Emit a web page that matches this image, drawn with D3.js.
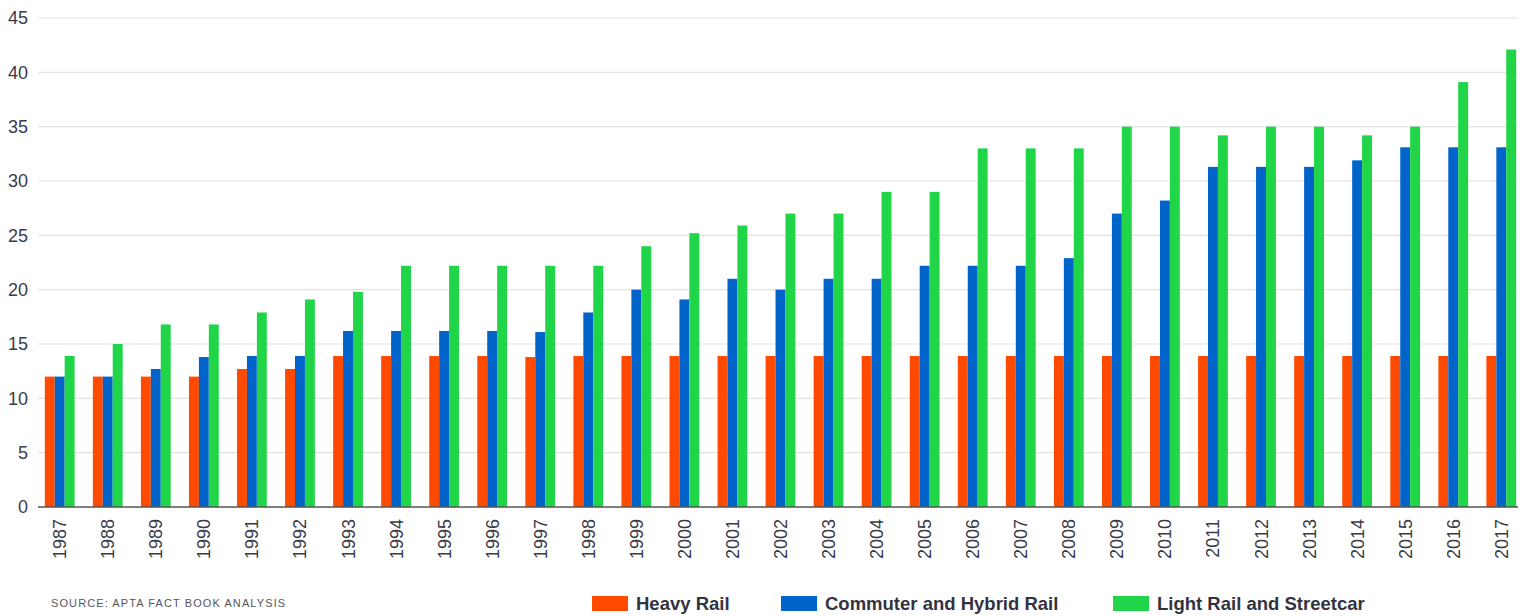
<!DOCTYPE html>
<html>
<head>
<meta charset="utf-8">
<script src="https://cdn.jsdelivr.net/npm/d3@7"></script>
<style>
  body { margin: 0; background: #fff; }
  text { font-family: "Liberation Sans", Arial, sans-serif; }
</style>
</head>
<body>
<svg class="chart"></svg>
<script>
var years = ['1987','1988','1989','1990','1991','1992','1993','1994','1995','1996','1997','1998','1999','2000','2001','2002','2003','2004','2005','2006','2007','2008','2009','2010','2011','2012','2013','2014','2015','2016','2017'];

var heavyRail = [12, 12, 12, 12, 12.7, 12.7, 13.9, 13.9, 13.9, 13.9, 13.8, 13.9, 13.9, 13.9, 13.9, 13.9, 13.9, 13.9, 13.9, 13.9, 13.9, 13.9, 13.9, 13.9, 13.9, 13.9, 13.9, 13.9, 13.9, 13.9, 13.9];
var commuterRail = [12, 12, 12.7, 13.8, 13.9, 13.9, 16.2, 16.2, 16.2, 16.2, 16.1, 17.9, 20, 19.1, 21, 20, 21, 21, 22.2, 22.2, 22.2, 22.9, 27, 28.2, 31.3, 31.3, 31.3, 31.9, 33.1, 33.1, 33.1];
var lightRail = [13.9, 15, 16.8, 16.8, 17.9, 19.1, 19.8, 22.2, 22.2, 22.2, 22.2, 22.2, 24, 25.2, 25.9, 27, 27, 29, 29, 33, 33, 33, 35, 35, 34.2, 35, 35, 34.2, 35, 39.1, 42.1];

var seriesNames = ['Heavy Rail', 'Commuter and Hybrid Rail', 'Light Rail and Streetcar'];
var colors = ['#ff4a00', '#0064cb', '#21d548'];
var yTicks = [0, 5, 10, 15, 20, 25, 30, 35, 40, 45];

var W = 1525, H = 616;
var plot = { left: 38, right: 1518, top: 18, bottom: 507 };

var svg = d3.select('.chart').attr('width', W).attr('height', H);

var x = d3.scaleBand().domain(years).range([40, 1521]).paddingInner(0.38).paddingOuter(0.1);
var sub = d3.scaleBand().domain([0, 1, 2]).range([0, x.bandwidth()]);
var y = d3.scaleLinear().domain([0, 45]).range([plot.bottom, plot.top]);

// gridlines
svg.append('g')
  .selectAll('line')
  .data(yTicks.filter(d => d > 0))
  .enter().append('line')
  .attr('x1', plot.left).attr('x2', plot.right)
  .attr('y1', d => y(d)).attr('y2', d => y(d))
  .attr('stroke', '#e2e2e2')
  .attr('stroke-width', 1.2);

// y labels
svg.append('g')
  .selectAll('text')
  .data(yTicks)
  .enter().append('text')
  .attr('x', 28)
  .attr('y', d => y(d))
  .attr('dy', '0.36em')
  .attr('text-anchor', 'end')
  .attr('font-size', 18)
  .attr('fill', '#3b3b48')
  .text(d => d);

// bars
var table = years.map((yr, i) => ({ year: yr, values: [heavyRail[i], commuterRail[i], lightRail[i]] }));

var groups = svg.append('g')
  .selectAll('g')
  .data(table)
  .enter().append('g')
  .attr('transform', d => 'translate(' + x(d.year) + ',0)');

groups.selectAll('rect')
  .data(d => d.values.map((v, k) => ({ k: k, v: v })))
  .enter().append('rect')
  .attr('x', d => sub(d.k))
  .attr('width', sub.bandwidth())
  .attr('y', d => y(d.v))
  .attr('height', d => y(0) - y(d.v))
  .attr('fill', d => colors[d.k]);

// baseline
svg.append('line')
  .attr('x1', plot.left).attr('x2', plot.right)
  .attr('y1', y(0)).attr('y2', y(0))
  .attr('stroke', '#555')
  .attr('stroke-width', 1.5);

// x labels
svg.append('g')
  .selectAll('text')
  .data(years)
  .enter().append('text')
  .attr('transform', d => 'translate(' + (x(d) + x.bandwidth() / 2) + ',519) rotate(-90)')
  .attr('dy', '0.36em')
  .attr('text-anchor', 'end')
  .attr('font-size', 18)
  .attr('fill', '#3b3b48')
  .text(d => d);

// source
svg.append('text')
  .attr('x', 51).attr('y', 607)
  .attr('font-size', 11)
  .attr('letter-spacing', 1.1)
  .attr('fill', '#55555f')
  .text('SOURCE: APTA FACT BOOK ANALYSIS');

// legend
var legendX = [592, 781, 1113];
var legend = svg.append('g')
  .selectAll('g')
  .data(seriesNames)
  .enter().append('g')
  .attr('transform', (d, i) => 'translate(' + legendX[i] + ',596)');

legend.append('rect')
  .attr('width', 36).attr('height', 15)
  .attr('fill', (d, i) => colors[i]);

legend.append('text')
  .attr('x', 44).attr('y', 7.5)
  .attr('dy', '0.36em')
  .attr('font-size', 18.5)
  .attr('font-weight', 'bold')
  .attr('fill', '#33333f')
  .text(d => d);
</script>
</body>
</html>
